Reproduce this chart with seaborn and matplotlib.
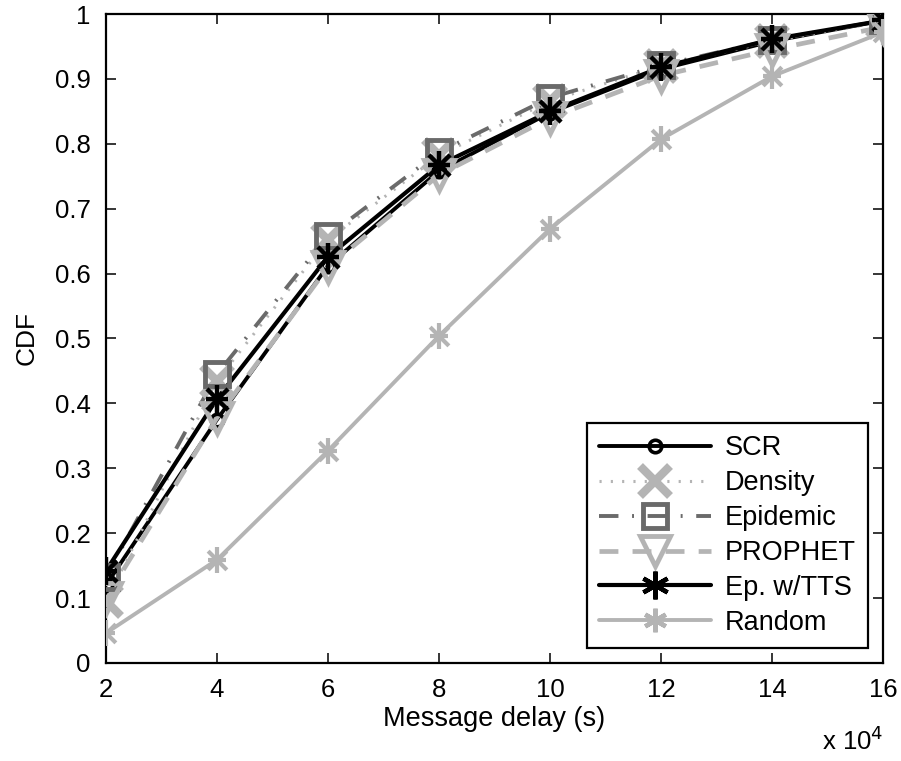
import matplotlib
matplotlib.use("Agg")
import matplotlib.pyplot as plt
import seaborn as sns
import pandas as pd
import numpy as np
from matplotlib.lines import Line2D

sns.set_style("ticks")
plt.rcParams['font.family'] = ['Liberation Sans', 'DejaVu Sans']
for k in ("text.color", "axes.labelcolor", "xtick.color", "ytick.color", "axes.edgecolor"):
    plt.rcParams[k] = "black"

delay = [2, 4, 6, 8, 10, 12, 14, 16]  # x 10^4 s
scr = [0.12, 0.375, 0.612, 0.758, 0.848, 0.915, 0.958, 0.99]
density = [0.095, 0.435, 0.652, 0.782, 0.866, 0.92, 0.958, 0.988]
epidemic = [0.133, 0.445, 0.658, 0.787, 0.871, 0.921, 0.96, 0.99]
prophet = [0.10, 0.378, 0.61, 0.752, 0.84, 0.905, 0.945, 0.98]
tts = [0.142, 0.407, 0.626, 0.767, 0.85, 0.918, 0.961, 0.99]
random_ = [0.046, 0.159, 0.327, 0.504, 0.669, 0.807, 0.904, 0.972]

names = ["SCR", "Density", "Epidemic", "PROPHET", "Ep. w/TTS", "Random"]
series = [scr, density, epidemic, prophet, tts, random_]

rows = []
for n, s in zip(names, series):
    for x, y in zip(delay, s):
        rows.append({"delay": x, "cdf": y, "alg": n})
df = pd.DataFrame(rows)

LG = "#b4b4b4"
DG = "#6a6a6a"
styles = {
    "SCR": dict(color="black", lw=2.8, ls="-", marker="o", ms=9, mfc="none", mew=2.6),
    "Density": dict(color=LG, lw=2.2, ls=(0, (0.7, 3.0)), marker="x", ms=21, mew=6),
    "Epidemic": dict(color=DG, lw=2.8, ls=(0, (5, 3.5, 0.5, 3.5)), marker="s", ms=17, mfc="none", mew=3.5),
    "PROPHET": dict(color=LG, lw=3.4, ls=(0, (4, 3)), marker="v", ms=22, mfc="none", mew=3.5),
    "Ep. w/TTS": dict(color="black", lw=3.0, ls="-"),
    "Random": dict(color=LG, lw=2.8, ls="-"),
}

fig = plt.figure(figsize=(9.01, 7.61), dpi=100)
ax = fig.add_axes([0.1176, 0.1288, 0.8624, 0.8528])

handles = []
for n in names:
    st = styles[n]
    sub = df[df.alg == n]
    sns.lineplot(data=sub, x="delay", y="cdf", ax=ax, color=st["color"], lw=st["lw"],
                 linestyle=st["ls"], legend=False, zorder=2)
    if n in ("Ep. w/TTS", "Random"):
        big = n == "Ep. w/TTS"
        mw = 3.2 if big else 3.0
        s1 = 420 if big else 330
        sns.scatterplot(data=sub, x="delay", y="cdf", ax=ax, marker="|", s=s1,
                        color=st["color"], linewidth=mw, legend=False, zorder=3)
        sns.scatterplot(data=sub, x="delay", y="cdf", ax=ax, marker="x", s=s1 * 0.55,
                        color=st["color"], linewidth=mw, legend=False, zorder=3)
        sns.scatterplot(data=sub, x="delay", y="cdf", ax=ax, marker="_", s=s1 * 0.55,
                        color=st["color"], linewidth=mw, legend=False, zorder=3)
        h = Line2D([], [], color=st["color"], lw=st["lw"], ls=st["ls"], marker=(6, 2, 0),
                   ms=20 if big else 17, mew=3.2, mec=st["color"])
    else:
        ax.plot(sub["delay"], sub["cdf"], ls="none", marker=st["marker"], ms=st["ms"],
                mfc=st.get("mfc", st["color"]), mec=st["color"], mew=st["mew"], zorder=3)
        h = Line2D([], [], color=st["color"], lw=st["lw"], ls=st["ls"], marker=st["marker"],
                   ms=st["ms"], mfc=st.get("mfc", st["color"]), mec=st["color"], mew=st["mew"])
    handles.append(h)

ax.set_xlim(2, 16)
ax.set_ylim(0, 1)
ax.set_xticks(delay)
ax.set_xticklabels([str(v) for v in delay])
yt = np.round(np.arange(0, 1.01, 0.1), 1)
ax.set_yticks(yt)
ax.set_yticklabels(["0" if v == 0 else ("1" if v == 1 else f"{v:g}") for v in yt])
ax.tick_params(direction="in", top=True, right=True, labelsize=18.5, length=7, width=1.1, pad=11,
               colors="black")
for sp in ax.spines.values():
    sp.set_visible(True)
    sp.set_linewidth(1.6)
    sp.set_color("black")
ax.set_xlabel("Message delay (s)", fontsize=19.5, labelpad=3, color="black")
ax.set_ylabel("CDF", fontsize=19, labelpad=12, color="black")
ax.text(1.0, -0.134, r"x 10$^{4}$", transform=ax.transAxes, fontsize=18.5, ha="right",
        va="baseline", color="black")

leg = ax.legend(handles, names, loc="lower right", fontsize=19.5, frameon=True, fancybox=False,
                edgecolor="black", framealpha=1, handlelength=4.15, labelspacing=0.33,
                borderaxespad=0.55, handletextpad=0.5, borderpad=0.45, labelcolor="black")
leg.get_frame().set_linewidth(1.6)

fig.savefig("out.png", dpi=100)
